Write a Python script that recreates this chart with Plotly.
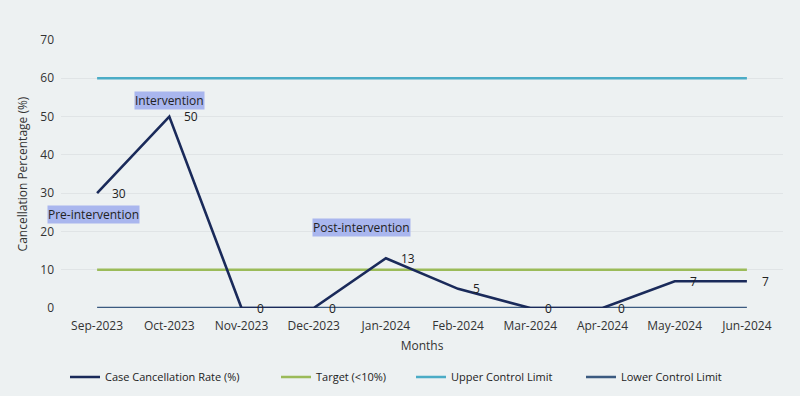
import plotly.graph_objects as go

months = ["Sep-2023", "Oct-2023", "Nov-2023", "Dec-2023", "Jan-2024",
          "Feb-2024", "Mar-2024", "Apr-2024", "May-2024", "Jun-2024"]
rate = [30, 50, 0, 0, 13, 5, 0, 0, 7, 7]
target = [10] * 10
ucl = [60] * 10
lcl = [0] * 10

phase_labels = ["Pre-intervention", "Intervention", "Post-intervention"]
phase_x = [-0.05, 1.0, 3.66]
phase_y = [24.5, 54.1, 20.9]

FONT = "Open Sans"
BG = "#EDF1F2"

series = [
    ("Target (<10%)", target, "#9BBB59", "legend2", 282),
    ("Upper Control Limit", ucl, "#4BACC6", "legend3", 417),
    ("Lower Control Limit", lcl, "#3B5A80", "legend4", 587),
]

fig = go.Figure()
for name, vals, col, lg, _ in series:
    fig.add_trace(go.Scatter(x=months, y=vals, mode="lines", name=name,
                             line=dict(color=col, width=2.6), legend=lg))
fig.add_trace(go.Scatter(x=months, y=rate, mode="lines", name="Case Cancellation Rate (%)",
                         line=dict(color="#1A2A5A", width=2.6), legend="legend"))

# data labels
for m, v in zip(months, rate):
    fig.add_annotation(x=m, y=v, text=str(v), showarrow=False, xanchor="left",
                       xshift=13, font=dict(family=FONT, size=12, color="#222"))

for lab, xv, yv in zip(phase_labels, phase_x, phase_y):
    fig.add_annotation(x=xv, y=yv, text=lab, showarrow=False, xref="x", yref="y",
                       bgcolor="#A9B6EE", borderpad=0,
                       font=dict(family=FONT, size=12, color="#222"))

def leg(px):
    return dict(orientation="h", xref="container", yref="container",
                x=(px - 6) / 800, xanchor="left", y=1 - 377 / 396, yanchor="middle",
                bgcolor="rgba(0,0,0,0)", font=dict(family=FONT, size=11, color="#222"))

layout_legends = {"legend": leg(71)}
for name, vals, col, lg, px in series:
    layout_legends[lg] = leg(px)

fig.update_layout(
    width=800, height=396,
    margin=dict(l=61, r=17, t=40, b=88, autoexpand=False),
    paper_bgcolor=BG, plot_bgcolor=BG,
    font=dict(family=FONT, size=12, color="#333"),
    showlegend=True,
    xaxis=dict(title=dict(text="Months", font=dict(size=12), standoff=8),
               range=[-0.5, 9.5],
               showgrid=False, zeroline=False, showline=False, ticks="",
               tickfont=dict(size=12), ticklabelstandoff=9),
    yaxis=dict(title=dict(text="Cancellation Percentage (%)", font=dict(size=12), standoff=10),
               range=[0, 70], dtick=10, showgrid=True, gridcolor="#E0E4E6",
               zeroline=False, showline=False, tickfont=dict(size=12),
               ticklabelstandoff=6),
    **layout_legends,
)

fig.write_html("out.html")
